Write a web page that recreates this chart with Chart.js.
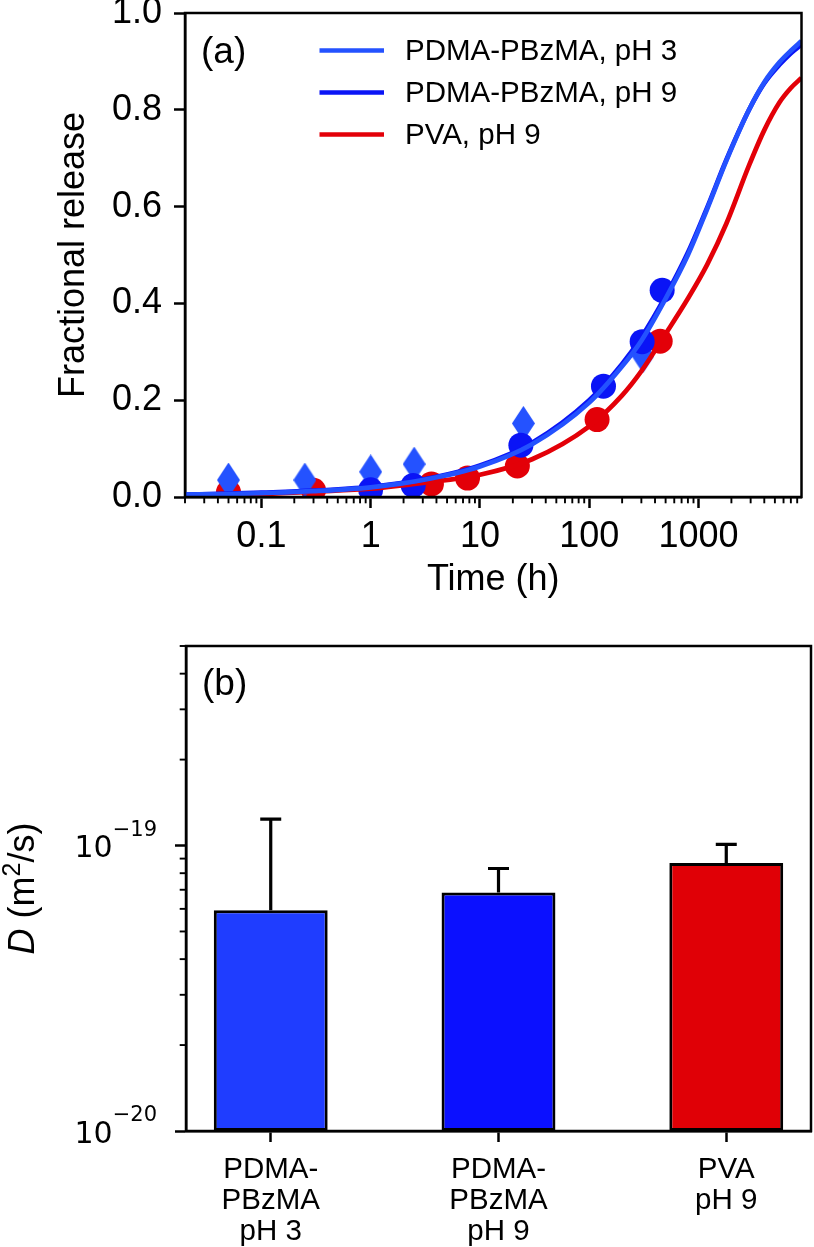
<!DOCTYPE html>
<html>
<head>
<meta charset="utf-8">
<script src="https://cdn.jsdelivr.net/npm/chart.js@4.4.1/dist/chart.umd.min.js"></script>
<style>
    html, body { margin: 0; padding: 0; background: #fff; }
    body { width: 814px; height: 1247px; position: relative; overflow: hidden; }
    .panel { position: absolute; left: 0; }
    #releaseWrap { top: 0; }
    #diffWrap { top: 620px; }
</style>
</head>
<body>
<div class="panel" id="releaseWrap"><canvas id="releaseChart" width="814" height="620"></canvas></div>
<div class="panel" id="diffWrap"><canvas id="diffChart" width="814" height="627"></canvas></div>
<script>
// ---- (a) fractional release vs time (h) ----
const seriesNames = ['PDMA-PBzMA, pH 3', 'PDMA-PBzMA, pH 9', 'PVA, pH 9'];

const timeTicks = [0.1, 1, 10, 100, 1000];
const timeTickLabels = ['0.1', '1', '10', '100', '1000'];
const releaseTicks = [0, 0.2, 0.4, 0.6, 0.8, 1.0];
const releaseTickLabels = ['0.0', '0.2', '0.4', '0.6', '0.8', '1.0'];

// measured points
const ph3Times = [0.05, 0.25, 1, 2.5, 25, 310];
const ph3Release = [0.035, 0.035, 0.052, 0.068, 0.152, 0.292];
const ph9Times = [1, 2.45, 23.7, 135, 305, 465];
const ph9Release = [0.015, 0.024, 0.107, 0.229, 0.321, 0.427];
const pvaTimes = [0.05, 0.3, 3.6, 7.7, 22, 118, 446];
const pvaRelease = [0.010, 0.014, 0.027, 0.039, 0.064, 0.160, 0.322];

// fitted curves
const fitTimes = [0.02, 0.05, 0.1, 0.3, 1, 3, 10, 30, 100, 200, 300, 500, 800, 1200, 1800, 2900, 4000, 5500, 7000, 8760];
const ph3Fit = [0.005, 0.006, 0.008, 0.012, 0.020, 0.035, 0.063, 0.109, 0.195, 0.270, 0.323, 0.410, 0.500, 0.595, 0.695, 0.800, 0.857, 0.898, 0.922, 0.942];
const ph9Fit = [0.005, 0.007, 0.009, 0.013, 0.021, 0.036, 0.065, 0.112, 0.200, 0.275, 0.330, 0.415, 0.505, 0.598, 0.697, 0.800, 0.855, 0.893, 0.917, 0.935];
const pvaFit = [0.003, 0.005, 0.006, 0.011, 0.017, 0.029, 0.046, 0.078, 0.146, 0.210, 0.260, 0.337, 0.410, 0.480, 0.565, 0.685, 0.758, 0.815, 0.845, 0.866];

// ---- (b) diffusion coefficients (m2/s) ----
const carriers = [['PDMA-', 'PBzMA', 'pH 3'], ['PDMA-', 'PBzMA', 'pH 9'], ['PVA', 'pH 9']];
const dValues = [5.93e-20, 6.85e-20, 8.68e-20];
const dErrors = [6.44e-20, 1.46e-20, 1.42e-20];
const dTicks = [1e-20, 1e-19];
const dTickExponents = ['\u221220', '\u221219'];

const lineColors = ['#2452ff', '#0a14f6', '#e30008'];
const barColors = ['#1f3dff', '#0b10ff', '#e00006'];
const fontFamily = "'Liberation Sans', Arial, Helvetica, sans-serif";

// minor tick values of a log axis between lo and hi
function minorLogTicks(lo, hi) {
    const out = [];
    for (let d = -21; d <= 4; d++) {
        for (let m = 2; m <= 9; m++) {
            const v = m * Math.pow(10, d);
            if (v >= lo * 0.999 && v <= hi * 1.001) out.push(v);
        }
    }
    return out;
}

// matplotlib style thin diamond
function thinDiamond(color, w, h) {
    const c = document.createElement('canvas');
    c.width = w;
    c.height = h;
    const ctx = c.getContext('2d');
    ctx.fillStyle = color;
    ctx.beginPath();
    ctx.moveTo(w / 2, 0);
    ctx.lineTo(w, h / 2);
    ctx.lineTo(w / 2, h);
    ctx.lineTo(0, h / 2);
    ctx.closePath();
    ctx.fill();
    return c;
}

// box round the plot area
const framePlugin = {
    id: 'frame',
    afterDraw(chart) {
        const a = chart.chartArea;
        const ctx = chart.ctx;
        ctx.save();
        ctx.strokeStyle = '#000';
        ctx.lineWidth = 2.5;
        ctx.strokeRect(a.left, a.top, a.right - a.left, a.bottom - a.top);
        ctx.restore();
    }
};

// short outward minor ticks
const minorTickPlugin = {
    id: 'minorTicks',
    afterDraw(chart, args, opts) {
        const scale = chart.scales[opts.axis];
        const ctx = chart.ctx;
        ctx.save();
        ctx.strokeStyle = '#000';
        ctx.lineWidth = 1.9;
        opts.values.forEach(v => {
            const p = scale.getPixelForValue(v);
            ctx.beginPath();
            if (scale.isHorizontal()) {
                ctx.moveTo(p, scale.top);
                ctx.lineTo(p, scale.top + 6.3);
            } else {
                ctx.moveTo(scale.right, p);
                ctx.lineTo(scale.right - 6.3, p);
            }
            ctx.stroke();
        });
        ctx.restore();
    }
};

// "(a)" / "(b)"
const panelLabelPlugin = {
    id: 'panelLabel',
    afterDraw(chart, args, opts) {
        const a = chart.chartArea;
        const ctx = chart.ctx;
        ctx.save();
        ctx.fillStyle = '#000';
        ctx.font = '37px ' + fontFamily;
        ctx.textBaseline = 'middle';
        ctx.fillText(opts.text, a.left + 16, a.top + opts.dy);
        ctx.restore();
    }
};

// legend inside the plot
const insideLegendPlugin = {
    id: 'insideLegend',
    afterDraw(chart, args, opts) {
        const a = chart.chartArea;
        const ctx = chart.ctx;
        ctx.save();
        ctx.font = '29.5px ' + fontFamily;
        ctx.textBaseline = 'middle';
        opts.labels.forEach((label, i) => {
            const y = a.top + opts.top + i * opts.step;
            ctx.strokeStyle = opts.colors[i];
            ctx.lineWidth = 4.7;
            ctx.beginPath();
            ctx.moveTo(a.left + 134.5, y);
            ctx.lineTo(a.left + 199, y);
            ctx.stroke();
            ctx.fillStyle = '#000';
            ctx.fillText(label, a.left + 220, y + 1.5);
        });
        ctx.restore();
    }
};

// upper error bars
const errorBarPlugin = {
    id: 'errorBars',
    afterDatasetsDraw(chart) {
        const meta = chart.getDatasetMeta(0);
        const y = chart.scales.y;
        const ctx = chart.ctx;
        ctx.save();
        ctx.strokeStyle = '#000';
        ctx.lineWidth = 3.2;
        meta.data.forEach((bar, i) => {
            const top = y.getPixelForValue(dValues[i]);
            const cap = y.getPixelForValue(dValues[i] + dErrors[i]);
            ctx.beginPath();
            ctx.moveTo(bar.x, top);
            ctx.lineTo(bar.x, cap);
            ctx.moveTo(bar.x - 10.5, cap);
            ctx.lineTo(bar.x + 10.5, cap);
            ctx.stroke();
        });
        ctx.restore();
    }
};

// 10^n tick labels of the log axis
const powerLabelPlugin = {
    id: 'powerLabels',
    afterDraw(chart) {
        const y = chart.scales.y;
        const ctx = chart.ctx;
        ctx.save();
        ctx.fillStyle = '#000';
        ctx.textBaseline = 'middle';
        ctx.textAlign = 'left';
        dTicks.forEach((v, i) => {
            const p = y.getPixelForValue(v);
            ctx.font = "21px 'DejaVu Sans'";
            const ew = ctx.measureText(dTickExponents[i]).width;
            const right = y.right - 29;
            ctx.fillText(dTickExponents[i], right - ew, p - 15);
            ctx.font = "30px 'DejaVu Sans'";
            const bw = ctx.measureText('10').width;
            ctx.fillText('10', right - ew - bw, p + 4);
        });
        ctx.restore();
    }
};

// y title of panel (b): italic D, superscript 2
const dTitlePlugin = {
    id: 'dTitle',
    afterDraw(chart) {
        const ctx = chart.ctx;
        const a = chart.chartArea;
        ctx.save();
        ctx.translate(24, (a.top + a.bottom) / 2);
        ctx.rotate(-Math.PI / 2);
        ctx.fillStyle = '#000';
        ctx.textBaseline = 'middle';
        const parts = [
            { t: 'D', f: 'italic 36px ' + fontFamily, dy: 0 },
            { t: ' (m', f: '36px ' + fontFamily, dy: 0 },
            { t: '2', f: '25px ' + fontFamily, dy: -11 },
            { t: '/s)', f: '36px ' + fontFamily, dy: 0 }
        ];
        let total = 0;
        parts.forEach(p => { ctx.font = p.f; p.w = ctx.measureText(p.t).width; total += p.w; });
        let x = -total / 2;
        parts.forEach(p => {
            ctx.font = p.f;
            ctx.fillText(p.t, x, p.dy);
            x += p.w;
        });
        ctx.restore();
    }
};

const tickGrid = { drawOnChartArea: false, offset: false, tickLength: 11, tickWidth: 2.5, tickColor: '#000' };
const axisBorder = { color: '#000', width: 2.5 };

document.addEventListener('DOMContentLoaded', () => {
    // Panel (a)
    const topH = 620;
    const topAreaBottom = 497;
    const titleCenter = 580;
    const topXAxisH = titleCenter + 18 - topAreaBottom;

    const fitData = [ph3Fit, ph9Fit, pvaFit];
    const lineSets = fitData.map((vals, i) => ({
        type: 'line',
        label: seriesNames[i],
        data: fitTimes.map((t, j) => ({ x: t, y: vals[j] })),
        borderColor: lineColors[i],
        borderWidth: 4.7,
        pointRadius: 0,
        cubicInterpolationMode: 'monotone',
        fill: false,
        order: i
    }));

    const pointSets = [
        {
            label: seriesNames[1] + ' data',
            data: ph9Times.map((t, i) => ({ x: t, y: ph9Release[i] })),
            backgroundColor: lineColors[1],
            pointRadius: 12.5,
            pointBorderWidth: 0,
            order: 3
        },
        {
            label: seriesNames[0] + ' data',
            data: ph3Times.map((t, i) => ({ x: t, y: ph3Release[i] })),
            pointStyle: thinDiamond(lineColors[0], 23, 35),
            pointRadius: 10,
            order: 4
        },
        {
            label: seriesNames[2] + ' data',
            data: pvaTimes.map((t, i) => ({ x: t, y: pvaRelease[i] })),
            backgroundColor: lineColors[2],
            pointRadius: 12.5,
            pointBorderWidth: 0,
            order: 5
        }
    ].map(ds => Object.assign({ type: 'scatter', clip: 0 }, ds));

    new Chart(document.getElementById('releaseChart'), {
        type: 'scatter',
        data: { datasets: lineSets.concat(pointSets) },
        options: {
            responsive: false,
            animation: false,
            layout: { padding: { top: 13, right: 3, bottom: topH - topAreaBottom - topXAxisH, left: 0 } },
            plugins: {
                legend: { display: false },
                tooltip: { enabled: false },
                minorTicks: { axis: 'x', values: minorLogTicks(0.02, 8760) },
                panelLabel: { text: '(a)', dy: 39.5 },
                insideLegend: { labels: seriesNames, colors: lineColors, top: 37.5, step: 42 }
            },
            scales: {
                x: {
                    type: 'logarithmic',
                    min: 0.02,
                    max: 8760,
                    afterBuildTicks: s => { s.ticks = timeTicks.map(v => ({ value: v })); },
                    afterFit: s => { s.height = topXAxisH; s.paddingLeft = 0; s.paddingRight = 0; },
                    ticks: {
                        callback: (v, i) => timeTickLabels[i],
                        autoSkip: false,
                        maxRotation: 0,
                        font: { family: fontFamily, size: 36, lineHeight: 1.0 },
                        color: '#000',
                        padding: 11
                    },
                    grid: tickGrid,
                    border: axisBorder,
                    title: {
                        display: true,
                        text: 'Time (h)',
                        font: { family: fontFamily, size: 36, lineHeight: 1.0 },
                        color: '#000',
                        padding: { top: 0, bottom: 0 }
                    }
                },
                y: {
                    min: 0,
                    max: 1,
                    afterBuildTicks: s => { s.ticks = releaseTicks.map(v => ({ value: v })); },
                    afterFit: s => { s.width = 185; s.paddingTop = 0; s.paddingBottom = 0; },
                    ticks: {
                        callback: (v, i) => releaseTickLabels[i],
                        font: { family: fontFamily, size: 36 },
                        color: '#000',
                        padding: 12
                    },
                    grid: tickGrid,
                    border: axisBorder,
                    title: {
                        display: true,
                        text: 'Fractional release',
                        font: { family: fontFamily, size: 36, lineHeight: 1.0 },
                        color: '#000',
                        padding: { top: 56, bottom: 0 }
                    }
                }
            }
        },
        plugins: [framePlugin, minorTickPlugin, panelLabelPlugin, insideLegendPlugin]
    });

    // Panel (b)
    const botAreaBottom = 511;

    new Chart(document.getElementById('diffChart'), {
        type: 'bar',
        data: {
            datasets: [{
                label: 'D',
                data: dValues.map((d, i) => ({ x: i, y: d })),
                backgroundColor: barColors,
                borderColor: '#000',
                borderWidth: 3,
                borderSkipped: false,
                barPercentage: 0.5,
                categoryPercentage: 1
            }]
        },
        options: {
            responsive: false,
            animation: false,
            layout: { padding: { top: 26, right: 3, bottom: 0, left: 0 } },
            plugins: {
                legend: { display: false },
                tooltip: { enabled: false },
                minorTicks: { axis: 'y', values: minorLogTicks(1e-20, 5e-19) },
                panelLabel: { text: '(b)', dy: 38.5 }
            },
            scales: {
                x: {
                    type: 'linear',
                    offset: false,
                    min: -0.372,
                    max: 2.372,
                    afterBuildTicks: s => { s.ticks = carriers.map((c, i) => ({ value: i })); },
                    afterFit: s => { s.height = 627 - botAreaBottom; s.paddingLeft = 0; s.paddingRight = 0; },
                    ticks: {
                        callback: (v, i) => carriers[i],
                        autoSkip: false,
                        maxRotation: 0,
                        font: { family: fontFamily, size: 29.5, lineHeight: 1.05 },
                        color: '#000',
                        padding: 12
                    },
                    grid: tickGrid,
                    border: axisBorder
                },
                y: {
                    type: 'logarithmic',
                    min: 1e-20,
                    max: 5e-19,
                    afterBuildTicks: s => { s.ticks = dTicks.map(v => ({ value: v })); },
                    afterFit: s => { s.width = 186; s.paddingTop = 0; s.paddingBottom = 0; },
                    ticks: { display: false },
                    grid: tickGrid,
                    border: axisBorder
                }
            }
        },
        plugins: [framePlugin, minorTickPlugin, panelLabelPlugin, errorBarPlugin, powerLabelPlugin, dTitlePlugin]
    });
});
</script>
</body>
</html>
